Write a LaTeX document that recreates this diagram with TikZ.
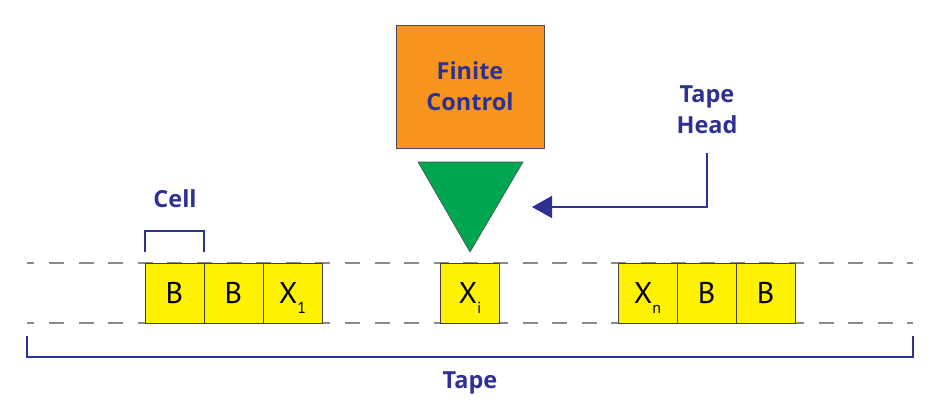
\documentclass[tikz,border=0pt]{standalone}
\usepackage{fontspec}
\setmainfont{PT Sans}
\newfontfamily\lblfont{Open Sans}
\usetikzlibrary{arrows.meta}
\definecolor{tmblue}{HTML}{2E3192}
\definecolor{tmorange}{HTML}{F7941D}
\definecolor{tmgreen}{HTML}{00A651}
\definecolor{tmyellow}{HTML}{FFF200}
\definecolor{tmgray}{HTML}{8A8A8A}
\newcommand{\tmsub}[1]{\raisebox{-10pt}[0pt][0pt]{\fontsize{16}{16}\selectfont #1}}
\begin{document}
\begin{tikzpicture}[x=1pt,y=-1pt,
  cellbox/.style={draw=black!75, line width=0.8pt, fill=tmyellow, minimum width=59pt, minimum height=60pt, inner sep=0pt, font=\fontsize{30}{30}\selectfont, text=black},
  lbl/.style={text=tmblue, font=\lblfont\bfseries\fontsize{23.5}{31}\selectfont, align=center, inner sep=0pt},
  dashline/.style={draw=tmgray, line width=1.1pt, dash pattern=on 15pt off 14.6pt, dash phase=7.6pt},
  blueline/.style={draw=tmblue, line width=1.8pt},
]
\useasboundingbox (0,0) rectangle (939,400);
% dashed tape lines
\coordinate (tl) at (27,263);
\coordinate (tr) at (913,263);
\coordinate (bl) at (27,323);
\coordinate (br) at (913,323);
\draw[dashline] (tl) -- (tr);
\draw[dashline] (bl) -- (br);
% cells
\node[cellbox] (c1) at (174.5,293) {B};
\node[cellbox] (c2) at (233.5,293) {B};
\node[cellbox] (c3) at (292.5,293) {X\tmsub{1}};
\node[cellbox] (ci) at (470,293) {X\tmsub{i}};
\node[cellbox] (cn) at (647.5,293) {X\tmsub{n}};
\node[cellbox] (c5) at (706.5,293) {B};
\node[cellbox] (c6) at (765.5,293) {B};
% finite control
\node[draw=black!70, line width=0.8pt, fill=tmorange, minimum width=148pt, minimum height=123pt, lbl] (fc) at (470,86.5) {Finite\\Control};
% tape head triangle
\draw[fill=tmgreen, draw=black!70, line width=0.6pt] (418,162) -- (523,162) -- (470,252) -- cycle;
% tape head label and arrow
\node[lbl] (th) at (707,110) {Tape\\Head};
\coordinate (hs) at (707,153);
\coordinate (tip) at (532,207);
\draw[blueline, -{Triangle[length=20pt,width=22pt]}] (hs) |- (tip);
% cell bracket
\node[lbl] (cl) at (175,199) {Cell};
\draw[blueline] (145,252) -- (145,231) -- (204,231) -- (204,252);
% tape bracket
\draw[blueline] (27,336) -- (27,357) -- (913,357) -- (913,336);
\node[lbl] (tp) at (470,383) {Tape};
\end{tikzpicture}
\end{document}
